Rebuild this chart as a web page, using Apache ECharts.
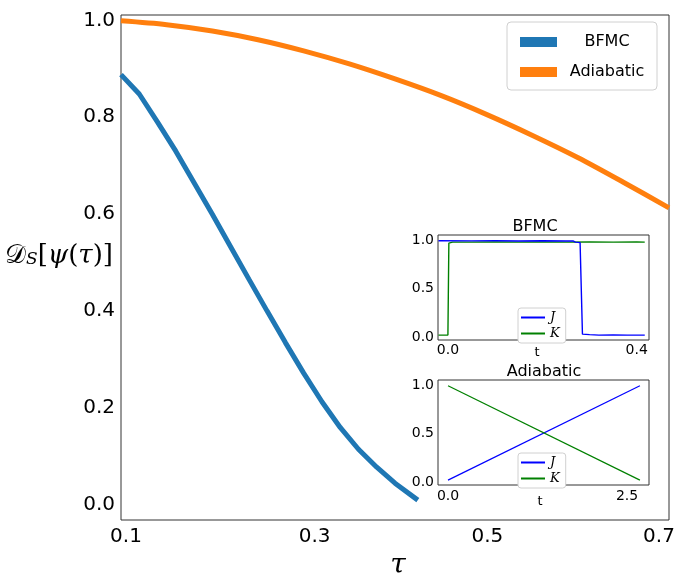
<!DOCTYPE html>
<html>
<head>
<meta charset="utf-8">
<script src="https://cdn.jsdelivr.net/npm/echarts@6/dist/echarts.min.js"></script>
<style>
html,body{margin:0;padding:0;background:#fff;}
#chart{width:693px;height:578px;}
</style>
</head>
<body>
<div id="chart"></div>
<script>
// ---- main chart data ----
const bfmcTau = [0.10,0.12,0.14,0.16,0.18,0.20,0.22,0.24,0.26,0.28,0.30,0.32,0.34,0.36,0.38,0.40,0.425];
const bfmcVal = [0.888,0.848,0.790,0.730,0.665,0.600,0.533,0.466,0.400,0.335,0.272,0.213,0.160,0.115,0.078,0.045,0.010];
const adiaTau = [0.10,0.15,0.20,0.25,0.30,0.35,0.40,0.45,0.50,0.55,0.60,0.65,0.70];
const adiaVal = [0.999,0.991,0.978,0.960,0.937,0.910,0.879,0.845,0.806,0.763,0.717,0.666,0.613];
const mainXTicks = [0.1,0.3,0.5,0.7];
const mainYTicks = [0.0,0.2,0.4,0.6,0.8,1.0];

// ---- BFMC inset data ----
const bfmcJt = [-0.02,0.05,0.10,0.15,0.20,0.25,0.265,0.27,0.28,0.284,0.285,0.30,0.32,0.35,0.38,0.417];
const bfmcJv = [1.0,0.998,1.0,0.997,0.999,0.996,0.998,0.985,0.98,0.96,0.03,0.025,0.02,0.022,0.02,0.02];
const bfmcKt = [-0.02,0.0,0.002,0.01,0.05,0.10,0.15,0.20,0.25,0.30,0.35,0.40,0.417];
const bfmcKv = [0.02,0.02,0.975,0.985,0.985,0.987,0.985,0.986,0.985,0.987,0.985,0.986,0.985];
const bfmcXTicks = [0.0,0.4];
const insetYTicks = [0.0,0.5,1.0];

// ---- Adiabatic inset data ----
const adJt = [0.0,2.68];
const adJv = [0.02,1.0];
const adKt = [0.0,2.68];
const adKv = [1.0,0.02];
const adXTicks = [0.0,2.5];

const zip = (a,b)=>a.map((v,i)=>[v,b[i]]);
const SANS = 'DejaVu Sans';

const chart = echarts.init(document.getElementById('chart'), null, {renderer:'canvas'});

const mainLabelShift = {0.1:[0,0,0,10], 0.3:[0,0,0,22], 0.5:[0,0,0,2], 0.7:[0,20,0,0]};

const option = {
  animation:false,
  backgroundColor:'#fff',
  grid:[
    {left:121, top:15, right:24, bottom:58, show:true, borderColor:'#333', borderWidth:1, backgroundColor:'transparent'},
    {left:438, top:235, width:211, height:105, show:true, borderColor:'#333', borderWidth:1, backgroundColor:'#fff', z:5},
    {left:438, top:380, width:211, height:105, show:true, borderColor:'#333', borderWidth:1, backgroundColor:'#fff', z:5}
  ],
  xAxis:[
    {gridIndex:0, type:'value', min:0.1, max:0.7,
     axisLine:{show:false}, axisTick:{show:false}, splitLine:{show:false},
     axisLabel:{customValues:mainXTicks, margin:7, fontSize:20, fontFamily:SANS, color:'#000',
       formatter:v=>{const k=(Math.round(v*10)/10); const key='p'+String(k).replace('.','_'); return '{'+key+'|'+k.toFixed(1)+'}';},
       rich:{
         p0_1:{padding:mainLabelShift[0.1], fontSize:20, fontFamily:SANS, color:'#000'},
         p0_3:{padding:mainLabelShift[0.3], fontSize:20, fontFamily:SANS, color:'#000'},
         p0_5:{padding:mainLabelShift[0.5], fontSize:20, fontFamily:SANS, color:'#000'},
         p0_7:{padding:mainLabelShift[0.7], fontSize:20, fontFamily:SANS, color:'#000'}
       }}},
    {gridIndex:1, type:'value', min:-0.021, max:0.426,
     axisLine:{show:false}, axisTick:{show:false}, splitLine:{show:false},
     axisLabel:{customValues:bfmcXTicks, margin:3, fontSize:14, fontFamily:SANS, color:'#000', formatter:v=>v.toFixed(1)}},
    {gridIndex:2, type:'value', min:-0.14, max:2.807,
     axisLine:{show:false}, axisTick:{show:false}, splitLine:{show:false},
     axisLabel:{customValues:adXTicks, margin:4, fontSize:14, fontFamily:SANS, color:'#000', formatter:v=>v.toFixed(1)}}
  ],
  yAxis:[
    {gridIndex:0, type:'value', min:-0.031, max:1.011,
     axisLine:{show:false}, axisTick:{show:false}, splitLine:{show:false},
     axisLabel:{customValues:mainYTicks, margin:6, fontSize:20, fontFamily:SANS, color:'#000', formatter:v=>v.toFixed(1)}},
    {gridIndex:1, type:'value', min:-0.031, max:1.059,
     axisLine:{show:false}, axisTick:{show:false}, splitLine:{show:false},
     axisLabel:{customValues:insetYTicks, margin:4, fontSize:14, fontFamily:SANS, color:'#000', formatter:v=>v.toFixed(1)}},
    {gridIndex:2, type:'value', min:-0.031, max:1.059,
     axisLine:{show:false}, axisTick:{show:false}, splitLine:{show:false},
     axisLabel:{customValues:insetYTicks, margin:4, fontSize:14, fontFamily:SANS, color:'#000', formatter:v=>v.toFixed(1)}}
  ],
  legend:[
    {data:['BFMC','Adiabatic'], left:507, top:22, orient:'vertical', icon:'rect',
     itemWidth:37, itemHeight:10, itemGap:14, padding:[12,5,10,13],
     backgroundColor:'#fff', borderColor:'#d0d0d0', borderWidth:1, borderRadius:4,
     selectedMode:false,
     formatter:n=>'{c|'+n+'}',
     textStyle:{fontSize:16, fontFamily:SANS, color:'#000', rich:{c:{width:90, align:'center', fontSize:16, fontFamily:SANS, color:'#000', lineHeight:20}}}},
    {data:['J','K'], left:518, top:308, orient:'vertical', icon:'rect',
     itemWidth:24, itemHeight:2, itemGap:3, padding:[3,6,3,3],
     backgroundColor:'#fff', borderColor:'#d0d0d0', borderWidth:1, borderRadius:3,
     selectedMode:false, z:10,
     textStyle:{fontSize:13, fontFamily:'DejaVu Serif', fontStyle:'italic', color:'#000', lineHeight:13}},
    {data:['J','K'], left:518, top:453, orient:'vertical', icon:'rect',
     itemWidth:24, itemHeight:2, itemGap:3, padding:[3,6,3,3],
     backgroundColor:'#fff', borderColor:'#d0d0d0', borderWidth:1, borderRadius:3,
     selectedMode:false, z:10,
     textStyle:{fontSize:13, fontFamily:'DejaVu Serif', fontStyle:'italic', color:'#000', lineHeight:13}}
  ],
  series:[
    {name:'BFMC', type:'line', xAxisIndex:0, yAxisIndex:0, data:zip(bfmcTau,bfmcVal), showSymbol:false,
     lineStyle:{width:5, color:'#1f77b4'}, itemStyle:{color:'#1f77b4'}, z:2},
    {name:'Adiabatic', type:'line', xAxisIndex:0, yAxisIndex:0, data:zip(adiaTau,adiaVal), showSymbol:false, smooth:0.3,
     lineStyle:{width:5, color:'#ff7f0e'}, itemStyle:{color:'#ff7f0e'}, z:2},
    {name:'J', type:'line', xAxisIndex:1, yAxisIndex:1, data:zip(bfmcJt,bfmcJv), showSymbol:false,
     lineStyle:{width:1.4, color:'#0000ff'}, itemStyle:{color:'#0000ff'}, z:7},
    {name:'K', type:'line', xAxisIndex:1, yAxisIndex:1, data:zip(bfmcKt,bfmcKv), showSymbol:false,
     lineStyle:{width:1.4, color:'#008000'}, itemStyle:{color:'#008000'}, z:6},
    {name:'J', type:'line', xAxisIndex:2, yAxisIndex:2, data:zip(adJt,adJv), showSymbol:false,
     lineStyle:{width:1.2, color:'#0000ff'}, itemStyle:{color:'#0000ff'}, z:6},
    {name:'K', type:'line', xAxisIndex:2, yAxisIndex:2, data:zip(adKt,adKv), showSymbol:false,
     lineStyle:{width:1.2, color:'#008000'}, itemStyle:{color:'#008000'}, z:6}
  ],
  graphic:[
    {type:'text', x:535, y:227, z:20, style:{text:'BFMC', font:'16px "DejaVu Sans"', fill:'#000', textAlign:'center', textVerticalAlign:'middle'}},
    {type:'text', x:544, y:372, z:20, style:{text:'Adiabatic', font:'16px "DejaVu Sans"', fill:'#000', textAlign:'center', textVerticalAlign:'middle'}},
    {type:'text', x:537, y:353, z:20, style:{text:'t', font:'13px "DejaVu Sans"', fill:'#000', textAlign:'center', textVerticalAlign:'middle'}},
    {type:'text', x:540, y:502, z:20, style:{text:'t', font:'13px "DejaVu Sans"', fill:'#000', textAlign:'center', textVerticalAlign:'middle'}},
    {type:'text', x:398, y:566, z:20, style:{text:'τ', font:'italic 28px "DejaVu Serif"', fill:'#000', textAlign:'center', textVerticalAlign:'middle'}},
    {type:'text', x:5, y:256, z:20, style:{
      text:'{D|𝒟}{s|S}{n|[}{i|ψ}{n|(}{i|τ}{n|)]}',
      textVerticalAlign:'middle',
      rich:{
        D:{font:'26px "DejaVu Serif"', fill:'#000'},
        s:{font:'italic 17px "DejaVu Serif"', fill:'#000', padding:[8,0,0,0]},
        n:{font:'26px "DejaVu Serif"', fill:'#000'},
        i:{font:'italic 26px "DejaVu Serif"', fill:'#000'}
      }}}
  ]
};
chart.setOption(option);
</script>
</body>
</html>
